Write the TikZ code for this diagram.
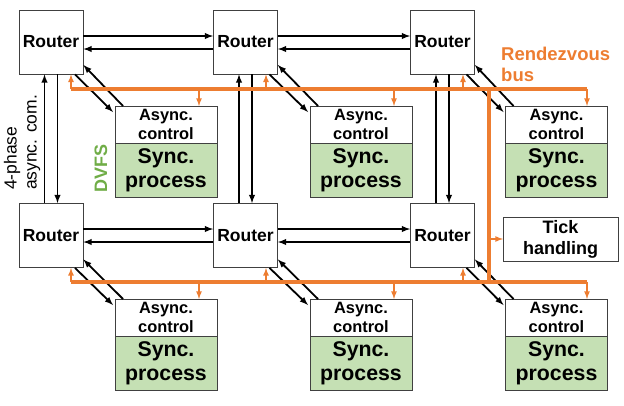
\documentclass[tikz,border=0pt]{standalone}
\usepackage{fontspec}
\setmainfont{Liberation Sans}
\usetikzlibrary{positioning}

\definecolor{busorange}{HTML}{ED7D31}
\definecolor{syncgreen}{HTML}{C5E0B4}
\definecolor{dvfsgreen}{HTML}{70AD47}

\tikzset{
  router/.style={draw=black!75,line width=0.8pt,minimum width=64pt,minimum height=64pt,
    inner sep=0pt,font=\fontsize{17.5}{20}\selectfont\bfseries},
  ctrl/.style={draw=black!75,line width=0.8pt,fill=white,minimum width=102pt,minimum height=37pt,
    inner sep=0pt,outer sep=0pt,align=center,font=\fontsize{16.4}{19}\selectfont\bfseries},
  proc/.style={draw=black!75,line width=0.8pt,fill=syncgreen,minimum width=102pt,minimum height=54pt,
    inner sep=0pt,outer sep=0pt,align=center,font=\fontsize{21.3}{24}\selectfont\bfseries},
  link/.style={->,line width=1.8pt},
  bus/.style={busorange,line width=3.8pt},
  tap/.style={->,busorange,line width=1.6pt}
}

\begin{document}
\begin{tikzpicture}[x=1pt,y=-1pt,>=latex]
          \useasboundingbox (0,0) rectangle (624,405);

          % routers
          \node (r11) [router] at (51,42) {Router};
          \node (r12) [router] at (245.5,42) {Router};
          \node (r13) [router] at (442.5,42) {Router};
          \node (r21) [router] at (51,235.5) {Router};
          \node (r22) [router] at (245.5,235.5) {Router};
          \node (r23) [router] at (442.5,235.5) {Router};

          % async control + sync process
          \node (a11) [ctrl] at (166,124.5) {Async.\\control};
          \node (a12) [ctrl] at (361,124.5) {Async.\\control};
          \node (a13) [ctrl] at (556.5,124.5) {Async.\\control};
          \node (a21) [ctrl] at (166,317.5) {Async.\\control};
          \node (a22) [ctrl] at (361,317.5) {Async.\\control};
          \node (a23) [ctrl] at (556.5,317.5) {Async.\\control};
          \node (s11) [proc,below=0pt of a11] {Sync.\\process};
          \node (s12) [proc,below=0pt of a12] {Sync.\\process};
          \node (s13) [proc,below=0pt of a13] {Sync.\\process};
          \node (s21) [proc,below=0pt of a21] {Sync.\\process};
          \node (s22) [proc,below=0pt of a22] {Sync.\\process};
          \node (s23) [proc,below=0pt of a23] {Sync.\\process};

          \node (tick) [ctrl,minimum width=115pt,minimum height=44pt,
            font=\fontsize{18}{21}\selectfont\bfseries] at (560.5,239) {Tick\\handling};

          % labels
          \node (rdv) [busorange,anchor=north west,inner sep=0pt,align=left,
            font=\fontsize{18.5}{21}\selectfont\bfseries] at (501,47) {Rendezvous\\bus};
          \node (hs) [rotate=90,align=left,inner sep=0pt,
            font=\fontsize{17.5}{20}\selectfont] at (22,142.5) {4-phase\\async. com.};
          \node (dvfs) [rotate=90,dvfsgreen,inner sep=0pt,
            font=\fontsize{18}{20}\selectfont\bfseries] at (101,168.5) {DVFS};

          % router to router
          \begin{scope}[link]
            \draw ([yshift=6pt]r11.east) -- ([yshift=6pt]r12.west);
            \draw ([yshift=-7pt]r12.west) -- ([yshift=-7pt]r11.east);
            \draw ([yshift=6pt]r12.east) -- ([yshift=6pt]r13.west);
            \draw ([yshift=-7pt]r13.west) -- ([yshift=-7pt]r12.east);
            \draw ([yshift=6.5pt]r21.east) -- ([yshift=6.5pt]r22.west);
            \draw ([yshift=-6.5pt]r22.west) -- ([yshift=-6.5pt]r21.east);
            \draw ([yshift=6.5pt]r22.east) -- ([yshift=6.5pt]r23.west);
            \draw ([yshift=-6.5pt]r23.west) -- ([yshift=-6.5pt]r22.east);
            \draw ([xshift=-6.5pt]r21.north) -- ([xshift=-6.5pt]r11.south);
            \draw ([xshift=6.5pt]r11.south) -- ([xshift=6.5pt]r21.north);
            \draw ([xshift=-6.5pt]r22.north) -- ([xshift=-6.5pt]r12.south);
            \draw ([xshift=6.5pt]r12.south) -- ([xshift=6.5pt]r22.north);
            \draw ([xshift=-6.5pt]r23.north) -- ([xshift=-6.5pt]r13.south);
            \draw ([xshift=6.5pt]r13.south) -- ([xshift=6.5pt]r23.north);
          \end{scope}

          % router to async control
          \begin{scope}[link]
            \draw ([xshift=24pt]r11.south) -- ([xshift=-2pt,yshift=-6pt]a11.north west);
            \draw ([xshift=8pt]a11.north west) -- ([yshift=-23pt]r11.east);
            \draw ([xshift=24pt]r12.south) -- ([xshift=-2pt,yshift=-6pt]a12.north west);
            \draw ([xshift=8pt]a12.north west) -- ([yshift=-23pt]r12.east);
            \draw ([xshift=24pt]r13.south) -- ([xshift=-2pt,yshift=-6pt]a13.north west);
            \draw ([xshift=8pt]a13.north west) -- ([yshift=-23pt]r13.east);
            \draw ([xshift=24pt]r21.south) -- ([xshift=-2pt,yshift=-6pt]a21.north west);
            \draw ([xshift=8pt]a21.north west) -- ([yshift=-24pt]r21.east);
            \draw ([xshift=24pt]r22.south) -- ([xshift=-2pt,yshift=-6pt]a22.north west);
            \draw ([xshift=8pt]a22.north west) -- ([yshift=-24pt]r22.east);
            \draw ([xshift=24pt]r23.south) -- ([xshift=-2pt,yshift=-6pt]a23.north west);
            \draw ([xshift=8pt]a23.north west) -- ([yshift=-24pt]r23.east);
          \end{scope}

          % rendezvous bus
          \coordinate (b1w) at (71,89);
          \coordinate (b1e) at (587,89);
          \coordinate (b2w) at (71,282);
          \coordinate (b2e) at (587,282);
          \coordinate (vt) at (489,89);
          \coordinate (vb) at (489,282);
          \draw[bus] (b1w) -- (b1e);
          \draw[bus] (b2w) -- (b2e);
          \draw[bus] (vt) -- (vb);

          \begin{scope}[tap]
            \draw ([xshift=20pt]r11.south |- b1w) -- ([xshift=20pt]r11.south);
            \draw ([xshift=20.5pt]r12.south |- b1w) -- ([xshift=20.5pt]r12.south);
            \draw ([xshift=20.5pt]r13.south |- b1w) -- ([xshift=20.5pt]r13.south);
            \draw ([xshift=20pt]r21.south |- b2w) -- ([xshift=20pt]r21.south);
            \draw ([xshift=20.5pt]r22.south |- b2w) -- ([xshift=20.5pt]r22.south);
            \draw ([xshift=20.5pt]r23.south |- b2w) -- ([xshift=20.5pt]r23.south);
            \draw ([xshift=33pt]a11.north |- b1w) -- ([xshift=33pt]a11.north);
            \draw ([xshift=33pt]a12.north |- b1w) -- ([xshift=33pt]a12.north);
            \draw ([xshift=30.5pt]a13.north |- b1w) -- ([xshift=30.5pt]a13.north);
            \draw ([xshift=33pt]a21.north |- b2w) -- ([xshift=33pt]a21.north);
            \draw ([xshift=33pt]a22.north |- b2w) -- ([xshift=33pt]a22.north);
            \draw ([xshift=30.5pt]a23.north |- b2w) -- ([xshift=30.5pt]a23.north);
            \draw (vt |- tick.west) -- (tick.west);
          \end{scope}
        \end{tikzpicture}
\end{document}
